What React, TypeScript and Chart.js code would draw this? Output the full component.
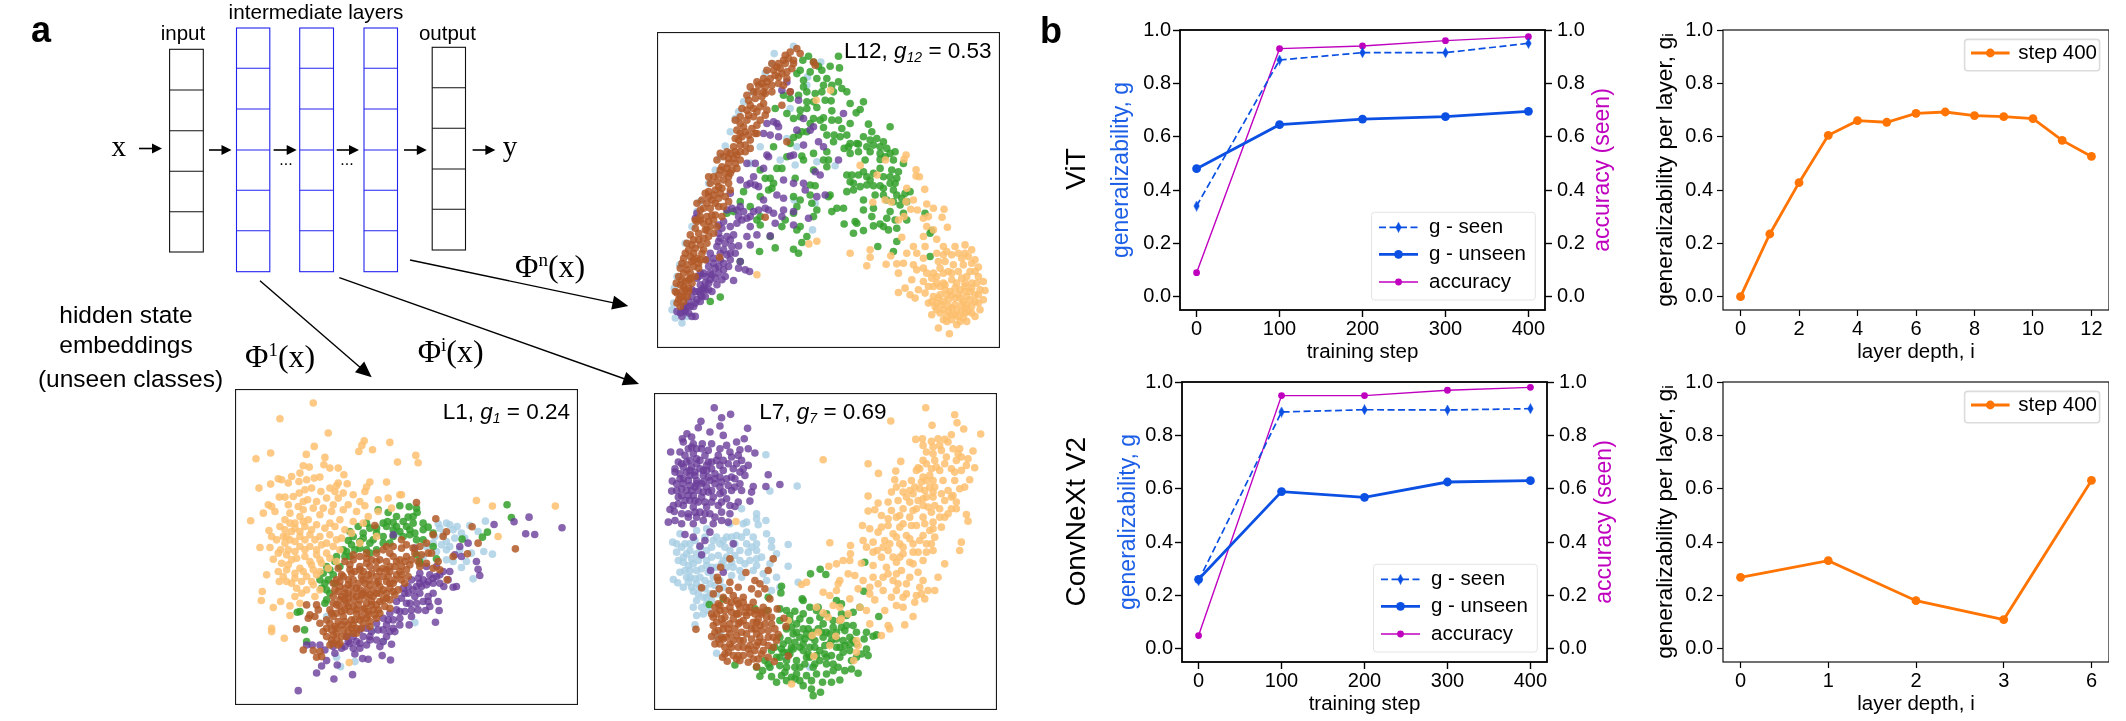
import React, { useEffect, useRef } from "react";
import { Chart, registerables } from "chart.js";
Chart.register(...registerables);

const FONT = "'Liberation Sans', Arial, sans-serif";
const SERIF = "'Liberation Serif', 'Times New Roman', serif";
const BLUE = "#0b50e3";
const MAGENTA = "#bf00bf";
const ORANGE = "#ff7403";

const stepLabels = [0, 100, 200, 300, 400];
const gTicks = [0, 0.2, 0.4, 0.6, 0.8, 1.0];
const vitSeen = [0.34, 0.8875, 0.915, 0.915, 0.95];
const vitUnseen = [0.48, 0.645, 0.666, 0.675, 0.695];
const vitAccuracy = [0.09, 0.93, 0.94, 0.96, 0.975];
const convSeen = [0.255, 0.8875, 0.896, 0.895, 0.9];
const convUnseen = [0.26, 0.589, 0.5675, 0.625, 0.63];
const convAccuracy = [0.049, 0.949, 0.949, 0.969, 0.98];
const vitDepthTicks = [0, 2, 4, 6, 8, 10, 12];
const vitDepth = [0, 1, 2, 3, 4, 5, 6, 7, 8, 9, 10, 11, 12];
const vitLayer = [0, 0.235, 0.4275, 0.605, 0.66, 0.654, 0.6875, 0.6925, 0.679, 0.675, 0.6675, 0.586, 0.526];
const convDepthLabels = ["0", "1", "2", "3", "6"];
const convLayer = [0.2675, 0.33, 0.18, 0.109, 0.631];

type P = number[][];
// Embedding scatter values, in each panel's own unlabelled embedding units.
const l12Blue: P = [[372,100],[430,78],[512,125],[472,170],[470,195],[345,158],[365,130],[305,215],[280,245],[265,275],[255,295],[240,335],[225,378],[210,410],[195,450],[175,490],[150,545],[140,575],[125,620],[105,670],[88,735],[80,770],[72,805],[70,850],[65,870],[75,895],[95,910],[110,890],[435,435],[432,540],[555,437],[487,630],[410,355],[440,380],[390,420],[500,425],[495,550],[330,380],[300,430],[420,265]];
const l12Green: P = [[565,108],[540,138],[568,143],[515,150],[505,138],[490,125],[475,108],[458,120],[450,150],[480,155],[520,195],[545,195],[565,185],[590,215],[575,205],[515,215],[495,220],[460,200],[445,225],[420,235],[400,225],[470,215],[543,242],[600,250],[640,245],[630,268],[618,278],[545,272],[500,262],[470,265],[450,270],[410,280],[375,265],[490,295],[520,293],[480,310],[455,335],[520,322],[552,345],[570,350],[590,345],[600,310],[575,325],[550,365],[582,385],[620,370],[655,312],[720,320],[665,335],[680,355],[700,365],[660,360],[690,380],[625,372],[595,380],[600,400],[625,395],[530,395],[490,400],[520,420],[535,420],[455,408],[420,370],[370,380],[430,352],[445,345],[470,335],[660,395],[645,420],[690,400],[720,400],[705,410],[690,418],[730,420],[760,430],[640,455],[650,470],[660,480],[690,445],[725,450],[590,465],[600,485],[610,490],[650,495],[670,497],[690,497],[720,490],[735,490],[700,505],[740,525],[765,520],[780,515],[730,545],[750,555],[610,510],[590,515],[640,540],[670,565],[720,575],[770,600],[825,580],[710,595],[740,625],[690,612],[670,618],[640,632],[615,605],[582,612],[620,610],[480,495],[495,497],[370,490],[355,510],[360,475],[435,475],[485,550],[540,525],[535,530],[500,570],[545,575],[560,565],[580,565],[440,560],[430,580],[490,590],[450,620],[470,650],[455,668],[430,688],[445,700],[375,684],[328,695],[360,650],[330,615],[320,600],[440,630],[270,725],[210,832],[180,845],[845,632],[840,640],[730,695],[683,680],[740,665],[840,710],[280,515],[270,545],[250,575],[230,580],[330,450],[440,160],[460,180],[500,175],[530,175],[550,215],[525,240],[490,245],[470,245],[450,290],[430,295],[510,300],[545,300],[530,345],[565,300],[600,370],[640,350],[650,380],[670,375],[710,385],[735,395],[745,455],[720,470],[740,475],[700,470],[670,460],[625,465],[605,465],[630,500],[675,525],[700,525],[730,510],[755,535],[770,545],[760,580],[735,600],[700,620],[665,590],[715,630],[710,540],[640,570],[610,640],[530,440],[490,450],[460,420],[410,410],[380,445],[345,475],[395,445],[365,505],[330,530],[300,560],[430,530],[480,525],[450,540],[395,620],[330,590],[405,600]];
const l12Orange: P = [[320,765],[600,700],[660,690],[650,738],[660,712],[708,733],[722,708],[768,405],[762,418],[798,449],[808,470],[798,468],[824,508],[681,465],[630,436],[706,420],[541,210],[498,240],[476,672],[500,664],[668,547],[705,540],[724,546],[768,545],[770,505],[790,540],[782,568],[802,570],[830,552],[850,565],[882,568],[876,592],[820,595],[745,600],[762,590],[835,590],[830,620],[850,630],[892,622],[820,650],[860,658],[755,652],[790,680],[770,700],[800,700],[825,680],[820,715],[740,732],[760,730],[790,735],[800,750],[745,760],[785,780],[745,818],[765,805],[780,825],[795,835],[805,810],[820,785],[845,775],[860,770],[880,680],[915,680],[945,675],[965,690],[890,695],[925,700],[955,710],[985,742],[975,720],[885,725],[910,735],[865,725],[870,745],[895,755],[940,735],[960,755],[985,770],[1000,785],[1005,812],[990,810],[1000,840],[990,870],[975,890],[950,905],[920,915],[898,942],[865,925],[890,905],[845,885],[835,850],[825,820],[850,800],[880,790],[905,780],[935,775],[965,790],[975,825],[965,860],[945,880],[905,885],[880,870],[860,850],[870,825],[900,815],[930,810],[950,830],[935,855],[915,855],[895,840],[915,835],[885,795],[945,800],[860,870],[925,890],[880,845],[930,835],[905,865],[950,855],[870,800],[920,790],[960,815],[890,890],[940,895],[850,830],[845,845],[865,835],[890,825],[925,825],[945,815],[975,845],[960,840],[985,850],[940,845],[920,870],[895,860],[875,855],[855,860],[870,880],[895,875],[915,885],[935,875],[955,875],[880,900],[905,900],[930,905],[945,865],[965,880],[905,825],[885,810],[915,805],[945,790],[965,805],[980,790],[985,825],[835,800],[860,790],[850,760],[880,760],[905,760],[925,755],[950,770],[975,755],[830,760],[820,745],[905,705],[935,715],[880,705],[860,700],[965,730],[945,700]];
const l12Purple: P = [[95,890],[80,875],[105,875],[125,890],[135,890],[110,860],[135,850],[125,830],[150,845],[165,830],[145,815],[165,810],[185,815],[150,795],[175,790],[200,795],[165,770],[185,765],[215,780],[160,760],[195,745],[220,750],[235,740],[210,720],[230,705],[240,720],[265,745],[250,782],[285,750],[298,755],[180,700],[200,680],[220,690],[245,680],[265,678],[205,640],[215,625],[230,650],[250,645],[205,615],[270,725],[140,580],[135,595],[240,620],[220,605],[275,600],[260,570],[245,565],[280,575],[300,590],[290,650],[300,675],[320,645],[360,648],[345,565],[355,570],[400,570],[400,535],[380,525],[340,540],[370,580],[375,610],[430,615],[395,590],[430,575],[475,595],[325,500],[310,470],[300,490],[315,495],[290,495],[270,480],[240,520],[400,480],[430,490],[460,490],[465,510],[495,455],[510,465],[525,525],[500,530],[350,405],[355,410],[315,430],[290,430],[340,445],[430,405],[420,408],[380,310],[370,305],[385,320],[350,310],[340,340],[360,345],[385,350],[440,330],[480,330],[490,320],[460,295],[505,365],[460,375],[565,420],[520,380],[580,280],[410,185],[395,210],[420,215],[445,240],[140,775],[125,810],[155,830],[180,780],[205,760],[190,730],[210,700],[175,740],[150,825],[115,845],[100,860],[90,880],[115,880],[100,870],[120,860],[140,840],[135,815],[155,810],[165,790],[145,770],[180,760],[195,775],[205,740],[220,730],[190,715],[225,770],[160,805],[175,810],[130,860],[150,760],[170,720],[205,665],[225,670],[240,660],[210,655],[240,700],[255,700],[260,610],[290,595],[230,570],[310,575],[325,570],[265,590],[270,560],[300,620]];
const l12Brown: P = [[90,860],[85,840],[100,845],[80,820],[95,815],[110,830],[115,805],[90,795],[105,785],[125,790],[85,770],[100,760],[120,760],[135,770],[90,745],[110,735],[130,740],[145,745],[100,715],[120,710],[140,715],[155,700],[115,690],[135,685],[150,675],[110,670],[130,660],[160,655],[120,645],[145,640],[170,630],[135,625],[160,610],[180,620],[190,640],[150,590],[170,590],[195,585],[215,590],[160,565],[180,565],[205,560],[140,550],[155,540],[185,540],[205,535],[225,530],[175,515],[195,510],[215,505],[180,490],[200,485],[235,490],[175,470],[205,465],[225,460],[245,450],[215,440],[235,430],[255,430],[220,410],[240,400],[260,405],[285,395],[250,380],[270,375],[300,385],[255,355],[275,350],[295,345],[315,340],[260,330],[280,320],[255,300],[270,290],[290,300],[310,290],[330,300],[320,340],[290,270],[310,265],[330,260],[350,270],[295,240],[315,235],[335,230],[310,215],[325,195],[345,200],[365,195],[320,185],[340,175],[360,175],[385,170],[370,150],[390,145],[410,155],[365,130],[385,130],[405,130],[425,145],[405,105],[420,95],[440,85],[490,125],[495,135],[410,365],[395,255],[345,592],[208,712],[420,215],[400,195],[165,720],[175,650],[100,830],[90,830],[115,815],[100,800],[120,775],[95,780],[110,750],[125,725],[95,730],[130,700],[105,700],[125,675],[145,660],[140,605],[165,630],[175,605],[190,600],[170,550],[195,550],[150,570],[190,525],[205,500],[190,470],[220,480],[210,450],[230,445],[250,415],[230,395],[270,395],[265,360],[285,335],[305,325],[270,310],[295,285],[320,275],[340,250],[300,255],[320,215],[345,220],[335,190],[350,185],[375,165],[395,160],[380,140],[400,120],[415,115],[430,130],[275,265],[285,375],[260,445],[235,470],[240,510],[210,520],[175,530],[135,600],[185,585],[130,720],[145,730],[115,780],[78,790],[105,810],[75,815],[80,850],[150,720],[160,690],[170,670],[200,620],[220,560],[235,545],[150,600],[165,520],[240,460],[270,420],[300,360],[320,315],[345,285],[270,340],[255,395],[235,415],[200,420],[210,400],[290,225],[300,200],[340,215],[365,215],[385,190],[410,175],[430,120],[450,100],[350,150]];

const l1Blue: P = [[655,432],[680,430],[690,435],[712,440],[750,437],[797,424],[775,455],[705,475],[680,485],[640,490],[620,500],[680,510],[650,515],[792,515],[818,523],[740,545],[725,563],[760,597],[610,530],[680,540],[585,728],[350,832],[362,860],[405,845],[335,790],[490,785],[460,750],[530,460],[670,465],[645,470],[320,710],[660,445],[700,450],[725,460],[665,495],[690,500],[720,510],[700,545],[755,520],[735,475]];
const l1Green: P = [[862,375],[875,413],[803,457],[788,472],[727,478],[540,378],[568,381],[590,385],[592,398],[565,412],[580,410],[505,398],[475,390],[503,425],[520,428],[440,430],[415,440],[625,442],[610,450],[640,460],[570,450],[585,460],[390,455],[430,460],[470,460],[490,470],[385,482],[420,485],[450,490],[470,510],[440,510],[405,510],[380,515],[650,537],[600,545],[590,525],[345,545],[330,570],[360,560],[310,580],[325,600],[345,610],[305,625],[330,640],[320,660],[240,695],[232,697],[254,750],[260,785],[610,480],[560,440],[530,440],[520,470],[600,550],[315,670],[640,500],[450,445],[490,430],[520,450],[540,455],[550,470],[400,470],[430,475],[460,480],[490,490],[510,490],[370,510],[395,495],[350,530],[375,530],[320,560],[340,585],[315,610],[300,600],[320,630],[570,465],[590,480],[550,425],[580,430],[610,430],[530,410],[500,440],[470,445],[450,520],[420,505],[390,530]];
const l1Orange: P = [[280,70],[180,117],[325,160],[433,183],[426,197],[417,215],[283,200],[458,210],[510,188],[152,220],[108,237],[259,224],[315,233],[533,247],[588,227],[595,249],[250,258],[268,262],[312,255],[330,265],[355,265],[372,285],[175,297],[215,290],[240,280],[185,300],[117,325],[152,313],[205,310],[237,305],[260,300],[283,295],[300,292],[355,310],[350,318],[382,312],[450,307],[500,307],[440,322],[435,335],[178,352],[195,352],[238,340],[255,330],[275,325],[303,335],[330,325],[370,340],[400,345],[540,345],[545,345],[145,375],[155,380],[130,400],[205,375],[235,380],[263,360],[290,365],[320,355],[355,355],[385,375],[435,378],[475,360],[505,355],[770,362],[818,379],[1007,379],[835,470],[92,423],[165,395],[195,420],[210,430],[240,410],[265,420],[300,405],[335,395],[370,390],[410,395],[445,410],[475,395],[515,385],[147,452],[155,470],[195,450],[225,445],[255,440],[290,435],[330,430],[360,420],[120,503],[150,503],[182,510],[210,480],[240,470],[270,465],[300,470],[330,465],[365,475],[175,520],[160,538],[205,510],[240,500],[270,500],[305,495],[340,500],[185,550],[215,540],[255,530],[290,525],[320,520],[360,510],[140,585],[175,575],[200,570],[240,565],[275,555],[305,550],[178,605],[200,605],[225,595],[260,590],[290,585],[230,625],[127,635],[124,662],[182,665],[245,640],[160,683],[210,678],[240,670],[210,707],[155,745],[155,755],[193,775],[388,848],[280,615],[300,630],[470,470],[420,490],[225,430],[250,425],[275,450],[240,455],[215,455],[200,470],[225,485],[255,480],[285,480],[315,445],[345,440],[375,450],[350,480],[320,490],[290,510],[255,510],[225,515],[200,525],[230,535],[270,545],[300,540],[330,535],[205,555],[225,580],[250,575],[280,570],[300,575],[325,565],[350,545],[190,590],[215,610],[245,605],[275,605],[260,630],[285,650],[225,650],[190,470],[210,400],[250,390],[280,385],[310,385],[340,375],[400,425],[430,430],[395,460],[180,440],[170,480],[195,490],[220,350],[250,365],[345,335],[420,365]];
const l1Purple: P = [[235,932],[342,897],[398,884],[290,879],[305,858],[320,842],[352,855],[428,836],[445,838],[487,827],[512,840],[405,822],[260,795],[277,795],[300,795],[315,810],[340,800],[375,800],[400,805],[420,790],[440,795],[470,780],[490,785],[515,793],[510,755],[525,755],[490,750],[450,770],[400,770],[380,770],[520,720],[540,715],[555,695],[575,690],[568,735],[647,727],[617,692],[658,692],[630,680],[655,665],[610,665],[590,670],[570,670],[600,640],[625,650],[640,640],[660,610],[640,610],[700,622],[710,620],[672,620],[685,600],[620,615],[600,610],[600,580],[630,585],[660,585],[690,575],[620,560],[650,560],[585,505],[720,500],[745,490],[705,525],[725,530],[770,545],[775,568],[780,587],[823,434],[883,426],[928,412],[918,462],[945,464],[1027,444],[565,640],[545,655],[530,690],[510,700],[490,715],[470,730],[440,745],[420,750],[550,625],[590,620],[575,600],[520,465],[520,745],[500,735],[475,750],[455,755],[430,770],[410,785],[390,790],[365,805],[345,820],[420,805],[450,780],[505,720],[540,695],[560,670],[585,650],[605,620],[625,605],[650,590],[610,600],[580,630],[555,640],[595,595],[565,620],[530,665],[670,575],[640,595],[540,735],[500,770],[480,800],[385,785],[595,690],[625,665],[575,710]];
const l1Brown: P = [[590,368],[648,417],[465,437],[680,456],[757,441],[775,490],[887,507],[743,522],[700,530],[640,465],[620,490],[670,470],[605,525],[635,520],[620,550],[640,565],[660,570],[682,600],[545,480],[520,500],[580,505],[490,510],[440,520],[400,540],[355,565],[390,570],[440,550],[480,540],[520,530],[560,530],[570,555],[545,560],[510,560],[470,565],[430,575],[400,600],[360,605],[345,630],[375,625],[415,610],[450,600],[490,590],[530,585],[565,590],[555,610],[520,610],[480,620],[440,630],[400,640],[365,650],[340,670],[380,670],[420,660],[460,650],[500,640],[535,630],[510,660],[470,675],[430,690],[390,695],[350,700],[330,690],[320,720],[355,725],[395,720],[440,715],[480,700],[510,685],[450,740],[410,745],[370,750],[335,750],[320,770],[350,780],[380,770],[260,675],[290,675],[295,690],[285,710],[265,715],[270,705],[230,747],[355,795],[340,790],[280,812],[300,815],[290,832],[305,830],[250,810],[330,795],[375,640],[430,600],[470,610],[500,570],[400,680],[440,670],[360,680],[420,630],[385,600],[460,630],[510,610],[340,650],[420,570],[470,590],[540,540],[450,560],[385,640],[410,700],[460,690],[370,710],[345,740],[400,760],[430,730],[405,575],[455,580],[490,565],[525,560],[435,610],[505,590],[545,600],[395,620],[355,635],[440,650],[480,640],[520,635],[410,650],[385,655],[455,665],[490,660],[360,660],[340,710],[415,675],[445,695],[475,690],[375,690],[405,720],[365,735],[425,710],[385,735],[350,760],[395,745],[350,600],[370,590],[395,580],[425,590],[445,585],[480,575],[510,575],[540,575],[560,570],[575,540],[555,545],[530,545],[500,545],[470,545],[455,540],[420,530],[390,555],[365,585],[340,610],[360,620],[385,615],[410,625],[430,640],[450,615],[475,605],[500,605],[525,600],[545,585],[510,625],[490,630],[470,640],[450,645],[425,645],[400,660],[375,660],[350,675],[335,700],[365,695],[385,680],[410,690],[435,685],[455,675],[480,665],[500,655],[525,645],[495,680],[465,705],[445,705],[420,720],[400,735],[375,725],[350,745],[330,730],[320,745],[340,765],[365,770],[385,755],[410,760],[425,745],[450,725],[470,715],[335,780],[360,790],[310,755],[300,730],[420,560],[470,520],[510,520],[545,505],[560,495],[585,520],[595,545],[500,500],[600,500],[625,520],[655,545],[600,560],[440,535],[400,525],[375,545]];

const l7Blue: P = [[378,223],[390,332],[472,317],[350,400],[350,415],[378,420],[355,433],[305,385],[320,425],[270,430],[310,430],[380,460],[445,492],[395,480],[350,490],[340,470],[320,490],[290,465],[260,470],[230,470],[120,460],[98,485],[125,500],[150,490],[140,520],[170,520],[200,510],[240,490],[270,510],[325,515],[350,510],[130,545],[160,550],[200,540],[235,525],[300,540],[350,555],[100,597],[113,607],[150,590],[180,590],[220,590],[260,560],[300,570],[340,570],[390,550],[410,590],[445,557],[160,632],[195,625],[130,620],[230,640],[160,680],[170,705],[165,733],[185,680],[200,670],[230,818],[475,605],[370,580],[395,630],[230,770],[240,760],[420,620],[380,600],[150,570],[185,565],[215,560],[245,550],[275,545],[170,610],[210,610],[140,590],[110,515],[135,490],[165,480],[195,470],[215,500],[255,500],[285,490],[300,510],[130,530],[155,535],[185,525],[215,530],[250,540],[280,560],[305,590],[170,570],[205,575],[240,600],[275,585],[145,605],[180,620],[210,640],[190,650],[170,660],[205,690],[395,500],[410,520],[365,530],[170,450],[200,445],[350,535],[190,700],[390,860],[435,830],[510,860],[440,740],[115,540],[145,555],[175,540],[200,555],[230,560],[260,530],[285,525],[315,550],[330,540],[120,575],[135,570],[165,595],[195,600],[225,615],[250,620],[155,620],[175,640],[200,650],[215,660],[110,490],[150,510],[180,500],[220,480],[250,480],[275,470],[305,470],[320,455],[335,500]];
const l7Green: P = [[285,853],[350,860],[368,870],[390,860],[360,887],[395,888],[410,905],[425,885],[455,890],[490,915],[465,895],[515,925],[520,945],[542,935],[548,905],[575,905],[600,898],[580,870],[615,870],[655,878],[635,865],[685,825],[680,805],[673,775],[700,767],[710,763],[717,708],[680,755],[650,755],[630,770],[615,750],[640,735],[620,735],[660,680],[640,695],[600,720],[620,705],[560,700],[535,680],[530,690],[590,660],[605,670],[510,680],[487,655],[490,660],[465,692],[440,690],[420,685],[423,637],[425,617],[512,580],[541,566],[558,582],[675,545],[672,632],[385,650],[345,685],[208,672],[250,655],[380,690],[420,720],[450,720],[480,715],[510,720],[550,730],[580,740],[610,780],[590,800],[600,830],[560,850],[520,860],[480,860],[440,860],[420,830],[430,790],[460,760],[490,745],[520,755],[550,770],[570,790],[540,810],[510,800],[480,800],[450,820],[470,840],[500,830],[540,840],[575,825],[525,780],[480,770],[445,780],[630,810],[650,830],[610,815],[405,800],[385,850],[440,840],[465,785],[495,775],[505,820],[530,825],[555,795],[525,800],[490,810],[460,805],[430,815],[420,770],[570,760],[590,775],[545,755],[505,745],[470,730],[440,745],[455,740],[470,755],[500,760],[515,770],[535,745],[560,755],[575,780],[590,755],[605,740],[600,800],[615,795],[555,820],[525,850],[495,850],[465,860],[445,815],[425,805],[420,855],[435,875],[470,880],[500,885],[530,880],[560,880],[595,860],[635,840],[455,800],[490,790],[510,830],[560,830],[580,850],[630,790],[650,790],[665,820],[640,780],[605,700],[580,720],[540,710],[490,700],[450,705],[410,830],[395,810],[375,840],[515,900],[480,900],[440,900]];
const l7Orange: P = [[858,82],[753,122],[877,135],[945,103],[952,127],[972,146],[1023,161],[828,177],[848,175],[875,183],[895,175],[915,177],[935,163],[925,185],[850,195],[860,215],[880,220],[905,210],[940,205],[960,205],[1000,212],[550,238],[685,250],[783,243],[850,240],[885,240],[920,230],[950,240],[985,235],[768,272],[716,279],[835,262],[830,270],[870,285],[900,270],[935,265],[965,270],[1005,262],[990,298],[765,298],[790,310],[815,300],[845,305],[880,300],[910,300],[945,300],[975,320],[755,335],[790,335],[820,340],[855,330],[885,320],[925,330],[685,347],[745,365],[775,360],[810,365],[850,355],[880,350],[915,360],[950,365],[715,368],[705,388],[755,390],[790,385],[830,385],[865,380],[900,385],[935,385],[980,402],[685,392],[725,405],[770,410],[810,410],[850,410],[880,425],[915,410],[985,422],[668,435],[745,435],[780,440],[830,435],[870,450],[905,440],[690,445],[715,455],[760,460],[800,465],[850,465],[885,470],[670,480],[700,485],[735,480],[780,490],[820,490],[860,490],[570,487],[632,495],[680,500],[712,510],[745,510],[790,520],[835,515],[880,510],[965,485],[960,510],[632,520],[630,540],[725,530],[770,545],[810,545],[850,540],[915,550],[610,540],[590,550],[567,557],[665,548],[700,555],[740,560],[785,570],[835,575],[895,590],[625,580],[645,585],[600,600],[595,610],[500,605],[485,612],[670,600],[700,590],[730,590],[760,600],[800,610],[850,600],[885,630],[865,630],[550,635],[570,645],[590,630],[655,625],[690,620],[730,630],[770,630],[800,640],[825,665],[855,655],[705,658],[630,655],[600,680],[580,675],[660,680],[680,690],[735,690],[770,675],[790,680],[820,708],[795,733],[690,730],[745,735],[750,745],[725,765],[600,720],[625,700],[530,680],[550,697],[565,710],[605,715],[535,755],[517,765],[588,767],[570,795],[522,827],[650,815],[650,780],[655,795],[642,840],[455,910],[288,423],[445,720],[770,320],[800,350],[835,360],[860,350],[870,320],[880,335],[840,325],[905,340],[940,345],[960,325],[780,405],[820,390],[850,375],[875,395],[900,410],[925,400],[950,385],[745,415],[790,430],[815,435],[855,430],[880,445],[725,440],[770,470],[810,475],[840,480],[875,490],[750,490],[790,500],[820,515],[860,515],[700,515],[730,500],[760,530],[780,530],[820,550],[745,580],[770,580],[810,590],[840,620],[775,610],[715,610],[690,640],[755,650],[790,650],[845,640],[830,645],[840,265],[860,250],[890,260],[915,250],[965,230],[945,275],[980,255],[880,200],[900,195],[955,220],[860,300],[825,320],[810,330],[885,375],[935,350],[850,290],[875,265]];
const l7Purple: P = [[223,82],[272,102],[183,123],[245,112],[175,142],[141,160],[127,175],[240,137],[323,144],[313,175],[250,165],[210,155],[187,190],[160,190],[130,185],[155,170],[92,215],[345,218],[325,205],[300,208],[215,190],[260,195],[290,185],[115,245],[135,225],[160,220],[195,225],[235,225],[275,230],[305,240],[325,255],[105,275],[130,260],[170,250],[200,255],[240,255],[280,265],[315,285],[97,302],[120,295],[150,285],[190,285],[225,280],[260,295],[300,310],[340,318],[378,318],[420,312],[385,283],[95,332],[125,325],[165,320],[200,320],[240,320],[275,330],[335,335],[115,350],[145,345],[185,350],[220,350],[260,355],[295,365],[330,362],[130,375],[160,380],[200,380],[235,375],[285,378],[90,387],[103,393],[85,425],[105,420],[125,430],[165,395],[210,400],[245,395],[270,400],[190,420],[160,430],[220,430],[245,420],[265,425],[135,462],[160,470],[210,455],[195,480],[180,497],[185,523],[280,490],[212,570],[250,575],[145,300],[170,300],[210,300],[240,290],[130,310],[180,265],[155,260],[215,265],[250,270],[175,330],[150,360],[225,310],[150,240],[180,240],[215,245],[140,275],[165,285],[200,270],[125,345],[205,335],[185,310],[160,345],[240,340],[175,365],[110,310],[120,280],[130,295],[150,270],[165,275],[190,270],[205,290],[225,295],[245,305],[265,315],[285,320],[305,330],[110,330],[140,330],[155,330],[190,335],[215,330],[250,335],[115,370],[135,360],[165,360],[195,365],[215,365],[245,365],[270,375],[100,375],[145,400],[180,395],[195,400],[225,410],[145,410],[170,410],[125,400],[185,205],[170,205],[205,210],[240,205],[270,215],[295,225],[145,205],[155,200],[120,215],[105,265],[170,310],[150,315],[190,305],[205,245],[230,240],[250,240],[265,250],[290,250],[300,275],[285,295],[310,265],[275,290],[125,250],[140,245],[170,235]];
const l7Brown: P = [[400,535],[385,570],[318,576],[270,535],[242,560],[232,590],[235,600],[185,622],[270,605],[220,640],[238,625],[268,630],[295,620],[345,600],[360,610],[335,625],[375,625],[355,640],[390,655],[168,746],[412,685],[432,713],[438,738],[415,762],[445,826],[403,843],[350,858],[248,830],[262,842],[290,835],[215,768],[220,735],[215,700],[235,670],[250,650],[280,645],[310,650],[340,665],[370,680],[380,710],[395,730],[400,770],[400,800],[385,830],[355,835],[325,845],[295,825],[265,815],[240,790],[235,750],[245,715],[270,680],[300,680],[330,695],[355,715],[365,750],[370,785],[345,810],[310,800],[280,780],[265,745],[280,715],[310,720],[335,745],[335,775],[305,755],[290,700],[255,690],[230,700],[350,760],[320,680],[260,770],[255,800],[330,820],[375,730],[385,770],[300,780],[220,710],[350,690],[290,660],[370,810],[285,745],[320,705],[250,745],[275,800],[330,795],[300,725],[355,785],[225,680],[240,690],[260,660],[275,665],[295,670],[310,665],[330,680],[345,700],[365,695],[385,690],[395,710],[405,745],[385,750],[360,735],[340,725],[320,735],[295,730],[270,730],[250,730],[230,725],[225,755],[245,770],[270,760],[290,765],[320,760],[345,745],[360,770],[385,795],[365,820],[350,795],[325,805],[295,800],[270,790],[250,775],[235,775],[255,820],[280,825],[310,825],[340,835],[300,840],[365,700],[295,700],[315,695],[275,695],[240,675],[255,710],[310,780],[410,780],[350,725],[225,790]];

const plain = { family: FONT };
const tickStyle = (w: number) => ({ drawOnChartArea: false, drawTicks: true, tickLength: 7, tickWidth: w, tickColor: "#000" });
const zeroPadding = (s: any) => { s.paddingTop = 0; s.paddingBottom = 0; s.paddingLeft = 0; s.paddingRight = 0; };

function makeDiamond(color: string) {
  const c = document.createElement("canvas");
  c.width = 7;
  c.height = 11;
  const x = c.getContext("2d")!;
  x.fillStyle = color;
  x.beginPath();
  x.moveTo(3.5, 0);
  x.lineTo(6.5, 5.5);
  x.lineTo(3.5, 11);
  x.lineTo(0.5, 5.5);
  x.closePath();
  x.fill();
  return c;
}

const decor = {
  id: "decor",
  afterDraw(chart: any, _a: any, o: any) {
    const { ctx, chartArea: a } = chart;
    ctx.save();
    ctx.setLineDash([]);
    if (o.legend) {
      const l = o.legend;
      ctx.fillStyle = "#fff";
      ctx.strokeStyle = l.border;
      ctx.lineWidth = l.borderWidth;
      ctx.beginPath();
      ctx.roundRect(a.left + l.x0, a.top + l.y0, l.x1 - l.x0, l.y1 - l.y0, 3);
      ctx.fill();
      ctx.stroke();
      l.rows.forEach((y: number, i: number) => {
        const d = chart.data.datasets[i];
        const yy = a.top + y;
        ctx.strokeStyle = d.borderColor;
        ctx.lineWidth = d.borderWidth;
        ctx.setLineDash(d.borderDash || []);
        ctx.beginPath();
        ctx.moveTo(a.left + l.h0, yy);
        ctx.lineTo(a.left + l.h1, yy);
        ctx.stroke();
        ctx.setLineDash([]);
        const mx = a.left + (l.h0 + l.h1) / 2;
        if (typeof d.pointStyle === "object") {
          ctx.drawImage(d.pointStyle, mx - d.pointStyle.width / 2, yy - d.pointStyle.height / 2);
        } else {
          ctx.fillStyle = d.pointBackgroundColor;
          ctx.beginPath();
          ctx.arc(mx, yy, d.pointRadius, 0, Math.PI * 2);
          ctx.fill();
        }
        ctx.fillStyle = "#000";
        ctx.font = `${l.size}px ${FONT}`;
        ctx.textAlign = "left";
        ctx.textBaseline = "middle";
        ctx.fillText(d.label, a.left + l.tx, yy + 0.5);
      });
    }
    if (o.rightTitle) {
      const t = o.rightTitle;
      ctx.save();
      ctx.translate(a.right + t.dx, (a.top + a.bottom) / 2);
      ctx.rotate(-Math.PI / 2);
      ctx.fillStyle = t.color;
      ctx.font = `${t.size}px ${FONT}`;
      ctx.textAlign = "center";
      ctx.textBaseline = "middle";
      ctx.fillText(t.text, 0, 0);
      ctx.restore();
    }
    ctx.strokeStyle = o.frameColor;
    ctx.lineWidth = o.frameWidth;
    ctx.strokeRect(a.left, a.top, a.right - a.left, a.bottom - a.top);
    ctx.restore();
  },
};

const TOP_PAD = 14;
const AX_H = 55;
const LAYOUT = { autoPadding: false, padding: { top: TOP_PAD, left: 0, right: 0, bottom: 0 } };

function stepChart(seen: number[], unseen: number[], acc: number[], L: number, titlePad: number, legendRows: number[]) {
  const diamond = makeDiamond(BLUE);
  const yTickCfg = (pad: number) => ({
    color: "#000",
    font: { ...plain, size: 20 },
    padding: pad,
    callback: (v: any) => Number(v).toFixed(1),
  });
  return {
    type: "line",
    data: {
      labels: stepLabels,
      datasets: [
        { label: "g - seen", data: stepLabels.map((x, i) => ({ x, y: seen[i] })), yAxisID: "y", borderColor: BLUE, borderWidth: 1.7, borderDash: [7, 3.5], pointStyle: diamond, pointBackgroundColor: BLUE, pointRadius: 4, pointBorderWidth: 0 },
        { label: "g - unseen", data: stepLabels.map((x, i) => ({ x, y: unseen[i] })), yAxisID: "y", borderColor: BLUE, borderWidth: 2.8, pointStyle: "circle", pointBackgroundColor: BLUE, pointRadius: 4.4, pointBorderWidth: 0 },
        { label: "accuracy", data: stepLabels.map((x, i) => ({ x, y: acc[i] })), yAxisID: "y2", borderColor: MAGENTA, borderWidth: 1.4, pointStyle: "circle", pointBackgroundColor: MAGENTA, pointRadius: 3.4, pointBorderWidth: 0 },
      ],
    },
    options: {
      animation: false, responsive: false, devicePixelRatio: 1,
      layout: LAYOUT,
      plugins: {
        legend: { display: false }, tooltip: { enabled: false },
        decor: {
          frameColor: "#000", frameWidth: 1.8,
          rightTitle: { text: "accuracy (seen)", color: MAGENTA, size: 23, dx: 58 },
          legend: { x0: 191.5, x1: 355.3, y0: legendRows[0] - 15, y1: legendRows[2] + 18, h0: 199, h1: 238, tx: 249, size: 20.5, border: "#e4e4e4", borderWidth: 1, rows: legendRows },
        },
      },
      scales: {
        x: {
          type: "linear", min: -20, max: 420,
          afterBuildTicks: (s: any) => { s.ticks = stepLabels.map((v) => ({ value: v })); },
          afterFit: (s: any) => { s.height = AX_H; zeroPadding(s); },
          ticks: { color: "#000", font: { ...plain, size: 20 }, padding: 0, maxRotation: 0 },
          grid: tickStyle(1.4), border: { display: false },
          title: { display: true, text: "training step", color: "#000", font: { ...plain, size: 20.5, lineHeight: 1 }, padding: { top: 0, bottom: 2 } },
        },
        y: {
          type: "linear", position: "left", min: -0.05, max: 1,
          afterBuildTicks: (s: any) => { s.ticks = gTicks.map((v) => ({ value: v })); },
          afterFit: (s: any) => { s.width = L; zeroPadding(s); },
          ticks: yTickCfg(2), grid: tickStyle(1.4), border: { display: false },
          title: { display: true, text: "generalizability, g", color: "#1c5fe6", font: { ...plain, size: 23, lineHeight: 1 }, padding: { top: titlePad, bottom: 0 } },
        },
        y2: {
          type: "linear", position: "right", min: -0.05, max: 1,
          afterBuildTicks: (s: any) => { s.ticks = gTicks.map((v) => ({ value: v })); },
          afterFit: (s: any) => { s.width = 70; zeroPadding(s); },
          ticks: yTickCfg(5), grid: tickStyle(1.4), border: { display: false },
        },
      },
    },
    plugins: [decor],
  };
}

function layerChart(xs: number[], values: number[], xMin: number, xMax: number, xTicks: number[], labelFor: (v: number) => string) {
  return {
    type: "line",
    data: {
      datasets: [
        { label: "step 400", data: xs.map((x, i) => ({ x, y: values[i] })), borderColor: ORANGE, borderWidth: 2.8, pointStyle: "circle", pointBackgroundColor: ORANGE, pointRadius: 4.4, pointBorderWidth: 0 },
      ],
    },
    options: {
      animation: false, responsive: false, devicePixelRatio: 1,
      layout: LAYOUT,
      plugins: {
        legend: { display: false }, tooltip: { enabled: false },
        decor: {
          frameColor: "#111", frameWidth: 1.2,
          legend: { x0: 241.6, x1: 376.6, y0: 9.4, y1: 40.7, h0: 248, h1: 286.6, tx: 295.3, size: 20.5, border: "#dcdcdc", borderWidth: 1.6, rows: [23] },
        },
      },
      scales: {
        x: {
          type: "linear", min: xMin, max: xMax,
          afterBuildTicks: (s: any) => { s.ticks = xTicks.map((v) => ({ value: v })); },
          afterFit: (s: any) => { s.height = AX_H; zeroPadding(s); },
          ticks: { color: "#000", font: { ...plain, size: 20 }, padding: 1, maxRotation: 0, callback: (v: any) => labelFor(Number(v)) },
          grid: { ...tickStyle(1.2), tickLength: 6 }, border: { display: false },
          title: { display: true, text: "layer depth, i", color: "#000", font: { ...plain, size: 20.5, lineHeight: 1 }, padding: { top: 0, bottom: 2 } },
        },
        y: {
          type: "linear", min: -0.05, max: 1,
          afterBuildTicks: (s: any) => { s.ticks = gTicks.map((v) => ({ value: v })); },
          afterFit: (s: any) => { s.width = 70; zeroPadding(s); },
          ticks: { color: "#000", font: { ...plain, size: 20 }, padding: 4, callback: (v: any) => Number(v).toFixed(1) },
          grid: { ...tickStyle(1.2), tickLength: 6 }, border: { display: false },
          title: { display: true, text: "generalizability per layer, g\u1d62", color: "#000", font: { ...plain, size: 22.8, lineHeight: 1 }, padding: { top: 1.5, bottom: 0 } },
        },
      },
    },
    plugins: [decor],
  };
}

const SCATTER_COLORS = ["rgba(166,206,227,0.8)", "rgba(51,160,44,0.85)", "rgba(253,191,111,0.85)", "rgba(106,61,154,0.8)", "rgba(177,89,40,0.85)"];
const SCATTER_NAMES = ["class 1", "class 2", "class 3", "class 4", "class 5"];

function scatterChart(groups: P[], xMin: number, xMax: number, yMin: number, yMax: number) {
  return {
    type: "scatter",
    data: {
      datasets: groups.map((g, i) => ({
        label: SCATTER_NAMES[i],
        data: g.map(([x, y]) => ({ x, y })),
        backgroundColor: SCATTER_COLORS[i],
        pointRadius: 3.8,
        pointBorderWidth: 0,
        order: groups.length - i,
      })),
    },
    options: {
      animation: false, responsive: false, devicePixelRatio: 1,
      layout: { autoPadding: false, padding: 0 },
      plugins: { legend: { display: false }, tooltip: { enabled: false }, decor: { frameColor: "#1a1a1a", frameWidth: 2.2 } },
      scales: {
        x: { type: "linear", display: false, min: xMin, max: xMax },
        y: { type: "linear", display: false, min: yMin, max: yMax, reverse: true },
      },
    },
    plugins: [decor],
  };
}

function ChartBox({ make, left, top, width, height }: { make: () => any; left: number; top: number; width: number; height: number }) {
  const ref = useRef<HTMLCanvasElement | null>(null);
  useEffect(() => {
    const chart = new Chart(ref.current as HTMLCanvasElement, make());
    return () => chart.destroy();
  }, []);
  return <canvas ref={ref} width={width} height={height} style={{ position: "absolute", left, top, width, height, display: "block" }} />;
}

const arrowSmall = [[139, 162, 148.5], [209, 231.5, 150], [273.6, 296.7, 150], [336.7, 359, 150], [404, 426.8, 150], [472.6, 495.4, 150]];
const longArrows = [[260, 280.7, 371.7, 377.3], [339.3, 277.7, 639, 384], [410, 260, 628.3, 306]];

function Head({ x0, y0, x1, y1, len, half }: { x0: number; y0: number; x1: number; y1: number; len: number; half: number }) {
  const d = Math.hypot(x1 - x0, y1 - y0);
  const ux = (x1 - x0) / d, uy = (y1 - y0) / d;
  const bx = x1 - ux * len, by = y1 - uy * len;
  return <polygon points={`${x1},${y1} ${bx - uy * half},${by + ux * half} ${bx + uy * half},${by - ux * half}`} fill="#000" />;
}

function Column({ x0, x1, ys, color, w }: { x0: number; x1: number; ys: number[]; color: string; w: number }) {
  return (
    <g stroke={color} strokeWidth={w} fill="none">
      <rect x={x0} y={ys[0]} width={x1 - x0} height={ys[ys.length - 1] - ys[0]} />
      {ys.slice(1, -1).map((y, i) => <line key={i} x1={x0} x2={x1} y1={y} y2={y} />)}
    </g>
  );
}

function PanelLabel({ x, y, head, g, sub, tail }: { x: number; y: number; head: string; g: string; sub: string; tail: string }) {
  return (
    <text x={x} y={y} fontFamily={FONT} fontSize={22.5} fill="#000">
      {head}
      <tspan fontStyle="italic">{g}</tspan>
      <tspan fontStyle="italic" fontSize={14} dy={4}>{sub}</tspan>
      <tspan dy={-4}>{tail}</tspan>
    </text>
  );
}

function Phi({ x, y, sup }: { x: number; y: number; sup: string }) {
  return (
    <text x={x} y={y} fontFamily={SERIF} fontSize={32} fill="#000">
      Φ<tspan fontSize={19} dy={-11}>{sup}</tspan><tspan dy={11}>(x)</tspan>
    </text>
  );
}

export default function App() {
  return (
    <div style={{ position: "absolute", left: 0, top: 0, width: 2126, height: 721, background: "#fff", overflow: "hidden" }}>
      <ChartBox make={() => scatterChart([l12Blue, l12Green, l12Orange, l12Purple, l12Brown], 20, 1050, 35, 985)} left={656.7} top={31.7} width={343} height={316} />
      <ChartBox make={() => scatterChart([l1Blue, l1Green, l1Orange, l1Purple, l1Brown], 45, 1075, 28, 975)} left={235} top={389.3} width={343} height={316} />
      <ChartBox make={() => scatterChart([l7Blue, l7Green, l7Orange, l7Purple, l7Brown], 42, 1072, 38, 988)} left={654} top={392.7} width={343} height={317} />
      <ChartBox make={() => stepChart(vitSeen, vitUnseen, vitAccuracy, 85, 15.5, [197.3, 224.3, 252])} left={1095} top={30 - TOP_PAD} width={85 + 365 + 70} height={TOP_PAD + 280 + AX_H} />
      <ChartBox make={() => stepChart(convSeen, convUnseen, convAccuracy, 85, 20.5, [197.3, 224.3, 252])} left={1097} top={382 - TOP_PAD} width={85 + 365 + 70} height={TOP_PAD + 280 + AX_H} />
      <ChartBox make={() => layerChart(vitDepth, vitLayer, -0.6, 12.6, vitDepthTicks, (v) => String(v))} left={1652.7} top={29.5 - TOP_PAD} width={70 + 386} height={TOP_PAD + 280 + AX_H} />
      <ChartBox make={() => layerChart([0, 1, 2, 3, 4], convLayer, -0.2, 4.2, [0, 1, 2, 3, 4], (v) => convDepthLabels[v])} left={1652.7} top={381.5 - TOP_PAD} width={70 + 386} height={TOP_PAD + 280 + AX_H} />
      <svg width={2126} height={721} style={{ position: "absolute", left: 0, top: 0, pointerEvents: "none" }}>
        <text x={31} y={42} fontFamily={FONT} fontWeight="bold" fontSize={36}>a</text>
        <text x={1040} y={42.7} fontFamily={FONT} fontWeight="bold" fontSize={36}>b</text>
        <text x={183} y={40} textAnchor="middle" fontFamily={FONT} fontSize={20.5}>input</text>
        <text x={316} y={19} textAnchor="middle" fontFamily={FONT} fontSize={20.7}>intermediate layers</text>
        <text x={447.4} y={40} textAnchor="middle" fontFamily={FONT} fontSize={20.5}>output</text>
        <text x={118.7} y={156} textAnchor="middle" fontFamily={SERIF} fontSize={29}>x</text>
        <text x={510} y={156} textAnchor="middle" fontFamily={SERIF} fontSize={29}>y</text>
        <Column x0={169.6} x1={203.3} ys={[49.3, 90, 130.7, 171.3, 211.7, 252]} color="#111" w={1.1} />
        <Column x0={236.5} x1={269.8} ys={[28, 68.3, 109, 150, 190.3, 230.7, 271.7]} color="#2222f0" w={1.1} />
        <Column x0={299.7} x1={333.5} ys={[28, 68.3, 109, 150, 190.3, 230.7, 271.7]} color="#2222f0" w={1.1} />
        <Column x0={364} x1={397.5} ys={[28, 68.3, 109, 150, 190.3, 230.7, 271.7]} color="#2222f0" w={1.1} />
        <Column x0={432.2} x1={465.5} ys={[47.3, 87.7, 128.3, 169, 209.3, 250]} color="#111" w={1.1} />
        {arrowSmall.map(([a, b, y], i) => (
          <g key={i}>
            <line x1={a} x2={b - 6} y1={y} y2={y} stroke="#000" strokeWidth={1.6} />
            <Head x0={a} y0={y} x1={b} y1={y} len={10} half={5} />
          </g>
        ))}
        <text x={286} y={165} textAnchor="middle" fontFamily={FONT} fontSize={16}>...</text>
        <text x={347} y={165} textAnchor="middle" fontFamily={FONT} fontSize={16}>...</text>
        {longArrows.map(([x0, y0, x1, y1], i) => (
          <g key={i}>
            <line x1={x0} y1={y0} x2={x1 - (x1 - x0) * 0.04} y2={y1 - (y1 - y0) * 0.04} stroke="#000" strokeWidth={1.4} />
            <Head x0={x0} y0={y0} x1={x1} y1={y1} len={16} half={7} />
          </g>
        ))}
        <Phi x={515} y={276.7} sup="n" />
        <Phi x={417.7} y={361.7} sup="i" />
        <Phi x={245} y={366.7} sup="1" />
        <g fontFamily={FONT} fontSize={24.5} textAnchor="middle">
          <text x={126} y={322.7}>hidden state</text>
          <text x={126} y={352.7}>embeddings</text>
          <text x={130.5} y={386.7}>(unseen classes)</text>
        </g>
        <PanelLabel x={844} y={58} head="L12, " g="g" sub="12" tail=" = 0.53" />
        <PanelLabel x={442.7} y={419.3} head="L1, " g="g" sub="1" tail=" = 0.24" />
        <PanelLabel x={759.3} y={419.3} head="L7, " g="g" sub="7" tail=" = 0.69" />
        <text transform="translate(1085,169) rotate(-90)" textAnchor="middle" fontFamily={FONT} fontSize={28}>ViT</text>
        <text transform="translate(1085,521.7) rotate(-90)" textAnchor="middle" fontFamily={FONT} fontSize={28}>ConvNeXt V2</text>
      </svg>
    </div>
  );
}
